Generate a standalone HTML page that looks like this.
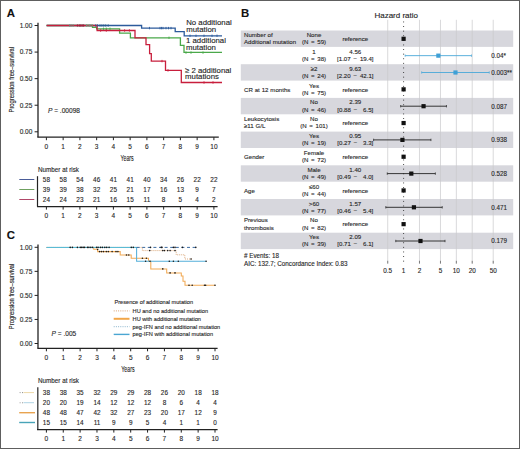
<!DOCTYPE html>
<html><head><meta charset="utf-8"><style>
html,body{margin:0;padding:0;background:#fff;}
body{width:520px;height:449px;overflow:hidden;}
svg{display:block;font-family:"Liberation Sans", sans-serif;}
text{stroke:#2e2e2e;stroke-width:0.12px;paint-order:stroke;}
text.ns{stroke:none;}
</style></head><body>
<svg width="520" height="449" viewBox="0 0 520 449">
<rect x="0" y="0" width="520" height="449" fill="#fff"/>
<text x="6.80" y="16.60" font-size="11.4" text-anchor="start" fill="#111" font-weight="bold" >A</text>
<text x="6.80" y="238.80" font-size="11.4" text-anchor="start" fill="#111" font-weight="bold" >C</text>
<text x="241.00" y="17.10" font-size="11.4" text-anchor="start" fill="#111" font-weight="bold" >B</text>
<line x1="38.00" y1="22.70" x2="38.00" y2="137.20" stroke="#222" stroke-width="1.3" />
<line x1="37.35" y1="137.20" x2="218.80" y2="137.20" stroke="#222" stroke-width="1.3" />
<line x1="34.60" y1="25.50" x2="38.00" y2="25.50" stroke="#222" stroke-width="1" />
<text x="32.30" y="27.90" font-size="6.5" text-anchor="end" fill="#262626" font-weight="normal" >1.00</text>
<line x1="34.60" y1="52.08" x2="38.00" y2="52.08" stroke="#222" stroke-width="1" />
<text x="32.30" y="54.48" font-size="6.5" text-anchor="end" fill="#262626" font-weight="normal" >0.75</text>
<line x1="34.60" y1="78.65" x2="38.00" y2="78.65" stroke="#222" stroke-width="1" />
<text x="32.30" y="81.05" font-size="6.5" text-anchor="end" fill="#262626" font-weight="normal" >0.50</text>
<line x1="34.60" y1="105.23" x2="38.00" y2="105.23" stroke="#222" stroke-width="1" />
<text x="32.30" y="107.63" font-size="6.5" text-anchor="end" fill="#262626" font-weight="normal" >0.25</text>
<line x1="34.60" y1="131.80" x2="38.00" y2="131.80" stroke="#222" stroke-width="1" />
<text x="32.30" y="134.20" font-size="6.5" text-anchor="end" fill="#262626" font-weight="normal" >0.00</text>
<line x1="46.40" y1="137.20" x2="46.40" y2="140.20" stroke="#222" stroke-width="1" />
<text x="46.40" y="148.60" font-size="6.5" text-anchor="middle" fill="#262626" font-weight="normal" >0</text>
<line x1="63.15" y1="137.20" x2="63.15" y2="140.20" stroke="#222" stroke-width="1" />
<text x="63.15" y="148.60" font-size="6.5" text-anchor="middle" fill="#262626" font-weight="normal" >1</text>
<line x1="79.90" y1="137.20" x2="79.90" y2="140.20" stroke="#222" stroke-width="1" />
<text x="79.90" y="148.60" font-size="6.5" text-anchor="middle" fill="#262626" font-weight="normal" >2</text>
<line x1="96.65" y1="137.20" x2="96.65" y2="140.20" stroke="#222" stroke-width="1" />
<text x="96.65" y="148.60" font-size="6.5" text-anchor="middle" fill="#262626" font-weight="normal" >3</text>
<line x1="113.40" y1="137.20" x2="113.40" y2="140.20" stroke="#222" stroke-width="1" />
<text x="113.40" y="148.60" font-size="6.5" text-anchor="middle" fill="#262626" font-weight="normal" >4</text>
<line x1="130.15" y1="137.20" x2="130.15" y2="140.20" stroke="#222" stroke-width="1" />
<text x="130.15" y="148.60" font-size="6.5" text-anchor="middle" fill="#262626" font-weight="normal" >5</text>
<line x1="146.90" y1="137.20" x2="146.90" y2="140.20" stroke="#222" stroke-width="1" />
<text x="146.90" y="148.60" font-size="6.5" text-anchor="middle" fill="#262626" font-weight="normal" >6</text>
<line x1="163.65" y1="137.20" x2="163.65" y2="140.20" stroke="#222" stroke-width="1" />
<text x="163.65" y="148.60" font-size="6.5" text-anchor="middle" fill="#262626" font-weight="normal" >7</text>
<line x1="180.40" y1="137.20" x2="180.40" y2="140.20" stroke="#222" stroke-width="1" />
<text x="180.40" y="148.60" font-size="6.5" text-anchor="middle" fill="#262626" font-weight="normal" >8</text>
<line x1="197.15" y1="137.20" x2="197.15" y2="140.20" stroke="#222" stroke-width="1" />
<text x="197.15" y="148.60" font-size="6.5" text-anchor="middle" fill="#262626" font-weight="normal" >9</text>
<line x1="213.90" y1="137.20" x2="213.90" y2="140.20" stroke="#222" stroke-width="1" />
<text x="213.90" y="148.60" font-size="6.5" text-anchor="middle" fill="#262626" font-weight="normal" >10</text>
<text transform="translate(127.1,160.6) scale(0.6,1)" font-size="8.8" text-anchor="middle" fill="#222">Years</text>
<text transform="translate(14.0,79.7) rotate(-90) scale(0.755,1)" font-size="7.7" text-anchor="middle" fill="#222">Progression free–survival</text>
<polyline points="46.60,25.50 141.60,25.50 141.60,28.10 175.20,28.10 175.20,31.70 184.20,31.70 184.20,35.80 222.00,35.80" fill="none" stroke="#2c5b9c" stroke-width="1.3" />
<polyline points="46.60,25.50 92.50,25.50 92.50,27.30 96.60,27.30 96.60,28.80 119.60,28.80 119.60,33.10 130.40,33.10 130.40,37.80 180.40,37.80 180.40,45.40 184.00,45.40 184.00,52.40 222.00,52.40" fill="none" stroke="#4aa84a" stroke-width="1.3" />
<polyline points="46.60,25.50 97.10,25.50 97.10,30.50 135.00,30.50 135.00,37.80 146.00,37.80 146.00,44.60 149.60,44.60 149.60,53.70 151.30,53.70 151.30,61.10 165.50,61.10 165.50,70.40 181.30,70.40 181.30,82.50 222.00,82.50" fill="none" stroke="#c81e3c" stroke-width="1.3" />
<line x1="69.70" y1="24.30" x2="69.70" y2="26.70" stroke="#6a8a7a" stroke-width="0.9" />
<line x1="71.10" y1="24.30" x2="71.10" y2="26.70" stroke="#6a8a7a" stroke-width="0.9" />
<line x1="73.10" y1="24.30" x2="73.10" y2="26.70" stroke="#6a8a7a" stroke-width="0.9" />
<line x1="77.40" y1="24.30" x2="77.40" y2="26.70" stroke="#9a2040" stroke-width="0.9" />
<line x1="79.30" y1="24.30" x2="79.30" y2="26.70" stroke="#9a2040" stroke-width="0.9" />
<line x1="80.75" y1="24.30" x2="80.75" y2="26.70" stroke="#9a2040" stroke-width="0.9" />
<line x1="82.20" y1="24.30" x2="82.20" y2="26.70" stroke="#9a2040" stroke-width="0.9" />
<line x1="83.60" y1="24.30" x2="83.60" y2="26.70" stroke="#9a2040" stroke-width="0.9" />
<line x1="86.50" y1="24.30" x2="86.50" y2="26.70" stroke="#6a9a7a" stroke-width="0.9" />
<line x1="88.00" y1="24.30" x2="88.00" y2="26.70" stroke="#6a9a7a" stroke-width="0.9" />
<line x1="89.40" y1="24.30" x2="89.40" y2="26.70" stroke="#6a9a7a" stroke-width="0.9" />
<line x1="90.80" y1="24.30" x2="90.80" y2="26.70" stroke="#6a9a7a" stroke-width="0.9" />
<line x1="92.30" y1="24.30" x2="92.30" y2="26.70" stroke="#6a9a7a" stroke-width="0.9" />
<line x1="95.70" y1="24.30" x2="95.70" y2="26.70" stroke="#2a5a8a" stroke-width="0.9" />
<line x1="97.60" y1="24.30" x2="97.60" y2="26.70" stroke="#2a5a8a" stroke-width="0.9" />
<line x1="100.00" y1="24.30" x2="100.00" y2="26.70" stroke="#2a5a8a" stroke-width="0.9" />
<line x1="101.90" y1="24.30" x2="101.90" y2="26.70" stroke="#2a5a8a" stroke-width="0.9" />
<line x1="103.80" y1="24.30" x2="103.80" y2="26.70" stroke="#2a5a8a" stroke-width="0.9" />
<line x1="105.75" y1="24.30" x2="105.75" y2="26.70" stroke="#2a5a8a" stroke-width="0.9" />
<line x1="108.20" y1="24.30" x2="108.20" y2="26.70" stroke="#2a5a8a" stroke-width="0.9" />
<line x1="103.50" y1="27.60" x2="103.50" y2="30.00" stroke="#4aa84a" stroke-width="0.9" />
<line x1="106.30" y1="27.60" x2="106.30" y2="30.00" stroke="#4aa84a" stroke-width="0.9" />
<line x1="110.00" y1="27.60" x2="110.00" y2="30.00" stroke="#4aa84a" stroke-width="0.9" />
<line x1="100.60" y1="29.30" x2="100.60" y2="31.70" stroke="#c81e3c" stroke-width="0.9" />
<line x1="106.30" y1="29.30" x2="106.30" y2="31.70" stroke="#c81e3c" stroke-width="0.9" />
<line x1="124.60" y1="29.30" x2="124.60" y2="31.70" stroke="#c81e3c" stroke-width="0.9" />
<line x1="129.40" y1="29.30" x2="129.40" y2="31.70" stroke="#c81e3c" stroke-width="0.9" />
<line x1="149.50" y1="26.90" x2="149.50" y2="29.30" stroke="#2c5b9c" stroke-width="0.9" />
<line x1="160.00" y1="26.90" x2="160.00" y2="29.30" stroke="#2c5b9c" stroke-width="0.9" />
<line x1="161.50" y1="26.90" x2="161.50" y2="29.30" stroke="#2c5b9c" stroke-width="0.9" />
<line x1="163.00" y1="26.90" x2="163.00" y2="29.30" stroke="#2c5b9c" stroke-width="0.9" />
<line x1="166.00" y1="26.90" x2="166.00" y2="29.30" stroke="#2c5b9c" stroke-width="0.9" />
<line x1="168.50" y1="26.90" x2="168.50" y2="29.30" stroke="#2c5b9c" stroke-width="0.9" />
<line x1="171.00" y1="26.90" x2="171.00" y2="29.30" stroke="#2c5b9c" stroke-width="0.9" />
<line x1="190.00" y1="34.60" x2="190.00" y2="37.00" stroke="#2c5b9c" stroke-width="0.9" />
<line x1="196.00" y1="34.60" x2="196.00" y2="37.00" stroke="#2c5b9c" stroke-width="0.9" />
<line x1="204.00" y1="34.60" x2="204.00" y2="37.00" stroke="#2c5b9c" stroke-width="0.9" />
<line x1="212.00" y1="34.60" x2="212.00" y2="37.00" stroke="#2c5b9c" stroke-width="0.9" />
<line x1="217.00" y1="34.60" x2="217.00" y2="37.00" stroke="#2c5b9c" stroke-width="0.9" />
<line x1="169.00" y1="36.60" x2="169.00" y2="39.00" stroke="#4aa84a" stroke-width="0.9" />
<line x1="186.00" y1="51.40" x2="186.00" y2="53.80" stroke="#4aa84a" stroke-width="0.9" />
<line x1="191.00" y1="51.40" x2="191.00" y2="53.80" stroke="#4aa84a" stroke-width="0.9" />
<line x1="203.00" y1="51.40" x2="203.00" y2="53.80" stroke="#4aa84a" stroke-width="0.9" />
<line x1="162.00" y1="59.90" x2="162.00" y2="62.30" stroke="#c81e3c" stroke-width="0.9" />
<line x1="168.00" y1="69.20" x2="168.00" y2="71.60" stroke="#c81e3c" stroke-width="0.9" />
<line x1="204.00" y1="81.30" x2="204.00" y2="83.70" stroke="#c81e3c" stroke-width="0.9" />
<line x1="213.00" y1="81.30" x2="213.00" y2="83.70" stroke="#c81e3c" stroke-width="0.9" />
<text x="186.20" y="25.20" font-size="7.8" text-anchor="start" fill="#222" font-weight="normal" >No additional</text>
<text x="186.20" y="32.40" font-size="7.8" text-anchor="start" fill="#222" font-weight="normal" >mutation</text>
<text x="186.00" y="42.60" font-size="7.8" text-anchor="start" fill="#222" font-weight="normal" >1 additional</text>
<text x="186.00" y="49.80" font-size="7.8" text-anchor="start" fill="#222" font-weight="normal" >mutation</text>
<text x="185.00" y="72.70" font-size="7.8" text-anchor="start" fill="#222" font-weight="normal" >≥ 2 additional</text>
<text x="185.10" y="79.40" font-size="7.8" text-anchor="start" fill="#222" font-weight="normal" >mutations</text>
<text x="47.90" y="113.00" font-size="6.6" text-anchor="start" fill="#262626" font-weight="normal" ><tspan font-style="italic">P</tspan> = .00098</text>
<text x="38.00" y="171.70" font-size="6.3" text-anchor="start" fill="#262626" font-weight="normal" >Number at risk</text>
<line x1="37.50" y1="176.20" x2="37.50" y2="206.60" stroke="#222" stroke-width="1.2" />
<line x1="37.00" y1="206.60" x2="217.60" y2="206.60" stroke="#222" stroke-width="1.3" />
<line x1="46.40" y1="206.60" x2="46.40" y2="209.60" stroke="#222" stroke-width="1" />
<text x="46.40" y="218.00" font-size="6.5" text-anchor="middle" fill="#262626" font-weight="normal" >0</text>
<line x1="63.15" y1="206.60" x2="63.15" y2="209.60" stroke="#222" stroke-width="1" />
<text x="63.15" y="218.00" font-size="6.5" text-anchor="middle" fill="#262626" font-weight="normal" >1</text>
<line x1="79.90" y1="206.60" x2="79.90" y2="209.60" stroke="#222" stroke-width="1" />
<text x="79.90" y="218.00" font-size="6.5" text-anchor="middle" fill="#262626" font-weight="normal" >2</text>
<line x1="96.65" y1="206.60" x2="96.65" y2="209.60" stroke="#222" stroke-width="1" />
<text x="96.65" y="218.00" font-size="6.5" text-anchor="middle" fill="#262626" font-weight="normal" >3</text>
<line x1="113.40" y1="206.60" x2="113.40" y2="209.60" stroke="#222" stroke-width="1" />
<text x="113.40" y="218.00" font-size="6.5" text-anchor="middle" fill="#262626" font-weight="normal" >4</text>
<line x1="130.15" y1="206.60" x2="130.15" y2="209.60" stroke="#222" stroke-width="1" />
<text x="130.15" y="218.00" font-size="6.5" text-anchor="middle" fill="#262626" font-weight="normal" >5</text>
<line x1="146.90" y1="206.60" x2="146.90" y2="209.60" stroke="#222" stroke-width="1" />
<text x="146.90" y="218.00" font-size="6.5" text-anchor="middle" fill="#262626" font-weight="normal" >6</text>
<line x1="163.65" y1="206.60" x2="163.65" y2="209.60" stroke="#222" stroke-width="1" />
<text x="163.65" y="218.00" font-size="6.5" text-anchor="middle" fill="#262626" font-weight="normal" >7</text>
<line x1="180.40" y1="206.60" x2="180.40" y2="209.60" stroke="#222" stroke-width="1" />
<text x="180.40" y="218.00" font-size="6.5" text-anchor="middle" fill="#262626" font-weight="normal" >8</text>
<line x1="197.15" y1="206.60" x2="197.15" y2="209.60" stroke="#222" stroke-width="1" />
<text x="197.15" y="218.00" font-size="6.5" text-anchor="middle" fill="#262626" font-weight="normal" >9</text>
<line x1="213.90" y1="206.60" x2="213.90" y2="209.60" stroke="#222" stroke-width="1" />
<text x="213.90" y="218.00" font-size="6.5" text-anchor="middle" fill="#262626" font-weight="normal" >10</text>
<line x1="19.30" y1="179.50" x2="34.30" y2="179.50" stroke="#4a5c98" stroke-width="1.0" />
<text x="46.40" y="181.90" font-size="6.4" text-anchor="middle" fill="#262626" font-weight="normal" >58</text>
<text x="63.15" y="181.90" font-size="6.4" text-anchor="middle" fill="#262626" font-weight="normal" >58</text>
<text x="79.90" y="181.90" font-size="6.4" text-anchor="middle" fill="#262626" font-weight="normal" >54</text>
<text x="96.65" y="181.90" font-size="6.4" text-anchor="middle" fill="#262626" font-weight="normal" >46</text>
<text x="113.40" y="181.90" font-size="6.4" text-anchor="middle" fill="#262626" font-weight="normal" >41</text>
<text x="130.15" y="181.90" font-size="6.4" text-anchor="middle" fill="#262626" font-weight="normal" >41</text>
<text x="146.90" y="181.90" font-size="6.4" text-anchor="middle" fill="#262626" font-weight="normal" >40</text>
<text x="163.65" y="181.90" font-size="6.4" text-anchor="middle" fill="#262626" font-weight="normal" >34</text>
<text x="180.40" y="181.90" font-size="6.4" text-anchor="middle" fill="#262626" font-weight="normal" >26</text>
<text x="197.15" y="181.90" font-size="6.4" text-anchor="middle" fill="#262626" font-weight="normal" >22</text>
<text x="213.90" y="181.90" font-size="6.4" text-anchor="middle" fill="#262626" font-weight="normal" >22</text>
<line x1="19.30" y1="189.50" x2="34.30" y2="189.50" stroke="#6fa060" stroke-width="1.0" />
<text x="46.40" y="191.60" font-size="6.4" text-anchor="middle" fill="#262626" font-weight="normal" >39</text>
<text x="63.15" y="191.60" font-size="6.4" text-anchor="middle" fill="#262626" font-weight="normal" >39</text>
<text x="79.90" y="191.60" font-size="6.4" text-anchor="middle" fill="#262626" font-weight="normal" >38</text>
<text x="96.65" y="191.60" font-size="6.4" text-anchor="middle" fill="#262626" font-weight="normal" >32</text>
<text x="113.40" y="191.60" font-size="6.4" text-anchor="middle" fill="#262626" font-weight="normal" >25</text>
<text x="130.15" y="191.60" font-size="6.4" text-anchor="middle" fill="#262626" font-weight="normal" >21</text>
<text x="146.90" y="191.60" font-size="6.4" text-anchor="middle" fill="#262626" font-weight="normal" >17</text>
<text x="163.65" y="191.60" font-size="6.4" text-anchor="middle" fill="#262626" font-weight="normal" >16</text>
<text x="180.40" y="191.60" font-size="6.4" text-anchor="middle" fill="#262626" font-weight="normal" >13</text>
<text x="197.15" y="191.60" font-size="6.4" text-anchor="middle" fill="#262626" font-weight="normal" >9</text>
<text x="213.90" y="191.60" font-size="6.4" text-anchor="middle" fill="#262626" font-weight="normal" >7</text>
<line x1="19.30" y1="199.50" x2="34.30" y2="199.50" stroke="#b04868" stroke-width="1.0" />
<text x="46.40" y="201.60" font-size="6.4" text-anchor="middle" fill="#262626" font-weight="normal" >24</text>
<text x="63.15" y="201.60" font-size="6.4" text-anchor="middle" fill="#262626" font-weight="normal" >24</text>
<text x="79.90" y="201.60" font-size="6.4" text-anchor="middle" fill="#262626" font-weight="normal" >23</text>
<text x="96.65" y="201.60" font-size="6.4" text-anchor="middle" fill="#262626" font-weight="normal" >21</text>
<text x="113.40" y="201.60" font-size="6.4" text-anchor="middle" fill="#262626" font-weight="normal" >16</text>
<text x="130.15" y="201.60" font-size="6.4" text-anchor="middle" fill="#262626" font-weight="normal" >15</text>
<text x="146.90" y="201.60" font-size="6.4" text-anchor="middle" fill="#262626" font-weight="normal" >11</text>
<text x="163.65" y="201.60" font-size="6.4" text-anchor="middle" fill="#262626" font-weight="normal" >8</text>
<text x="180.40" y="201.60" font-size="6.4" text-anchor="middle" fill="#262626" font-weight="normal" >5</text>
<text x="197.15" y="201.60" font-size="6.4" text-anchor="middle" fill="#262626" font-weight="normal" >4</text>
<text x="213.90" y="201.60" font-size="6.4" text-anchor="middle" fill="#262626" font-weight="normal" >2</text>
<line x1="38.00" y1="244.50" x2="38.00" y2="348.30" stroke="#222" stroke-width="1.3" />
<line x1="37.35" y1="348.30" x2="217.60" y2="348.30" stroke="#222" stroke-width="1.3" />
<line x1="34.60" y1="247.30" x2="38.00" y2="247.30" stroke="#222" stroke-width="1" />
<text x="32.30" y="249.70" font-size="6.5" text-anchor="end" fill="#262626" font-weight="normal" >1.00</text>
<line x1="34.60" y1="271.35" x2="38.00" y2="271.35" stroke="#222" stroke-width="1" />
<text x="32.30" y="273.75" font-size="6.5" text-anchor="end" fill="#262626" font-weight="normal" >0.75</text>
<line x1="34.60" y1="295.40" x2="38.00" y2="295.40" stroke="#222" stroke-width="1" />
<text x="32.30" y="297.80" font-size="6.5" text-anchor="end" fill="#262626" font-weight="normal" >0.50</text>
<line x1="34.60" y1="319.45" x2="38.00" y2="319.45" stroke="#222" stroke-width="1" />
<text x="32.30" y="321.85" font-size="6.5" text-anchor="end" fill="#262626" font-weight="normal" >0.25</text>
<line x1="34.60" y1="343.50" x2="38.00" y2="343.50" stroke="#222" stroke-width="1" />
<text x="32.30" y="345.90" font-size="6.5" text-anchor="end" fill="#262626" font-weight="normal" >0.00</text>
<line x1="46.40" y1="348.30" x2="46.40" y2="351.30" stroke="#222" stroke-width="1" />
<text x="46.40" y="359.80" font-size="6.5" text-anchor="middle" fill="#262626" font-weight="normal" >0</text>
<line x1="63.26" y1="348.30" x2="63.26" y2="351.30" stroke="#222" stroke-width="1" />
<text x="63.26" y="359.80" font-size="6.5" text-anchor="middle" fill="#262626" font-weight="normal" >1</text>
<line x1="80.12" y1="348.30" x2="80.12" y2="351.30" stroke="#222" stroke-width="1" />
<text x="80.12" y="359.80" font-size="6.5" text-anchor="middle" fill="#262626" font-weight="normal" >2</text>
<line x1="96.98" y1="348.30" x2="96.98" y2="351.30" stroke="#222" stroke-width="1" />
<text x="96.98" y="359.80" font-size="6.5" text-anchor="middle" fill="#262626" font-weight="normal" >3</text>
<line x1="113.84" y1="348.30" x2="113.84" y2="351.30" stroke="#222" stroke-width="1" />
<text x="113.84" y="359.80" font-size="6.5" text-anchor="middle" fill="#262626" font-weight="normal" >4</text>
<line x1="130.70" y1="348.30" x2="130.70" y2="351.30" stroke="#222" stroke-width="1" />
<text x="130.70" y="359.80" font-size="6.5" text-anchor="middle" fill="#262626" font-weight="normal" >5</text>
<line x1="147.56" y1="348.30" x2="147.56" y2="351.30" stroke="#222" stroke-width="1" />
<text x="147.56" y="359.80" font-size="6.5" text-anchor="middle" fill="#262626" font-weight="normal" >6</text>
<line x1="164.42" y1="348.30" x2="164.42" y2="351.30" stroke="#222" stroke-width="1" />
<text x="164.42" y="359.80" font-size="6.5" text-anchor="middle" fill="#262626" font-weight="normal" >7</text>
<line x1="181.28" y1="348.30" x2="181.28" y2="351.30" stroke="#222" stroke-width="1" />
<text x="181.28" y="359.80" font-size="6.5" text-anchor="middle" fill="#262626" font-weight="normal" >8</text>
<line x1="198.14" y1="348.30" x2="198.14" y2="351.30" stroke="#222" stroke-width="1" />
<text x="198.14" y="359.80" font-size="6.5" text-anchor="middle" fill="#262626" font-weight="normal" >9</text>
<line x1="215.00" y1="348.30" x2="215.00" y2="351.30" stroke="#222" stroke-width="1" />
<text x="215.00" y="359.80" font-size="6.5" text-anchor="middle" fill="#262626" font-weight="normal" >10</text>
<text transform="translate(127.9,371.8) scale(0.6,1)" font-size="8.8" text-anchor="middle" fill="#222">Years</text>
<text transform="translate(14.0,296.4) rotate(-90) scale(0.755,1)" font-size="7.7" text-anchor="middle" fill="#222">Progression free–survival</text>
<polyline points="46.60,247.40 142.40,247.40 142.40,250.60 176.20,250.60 176.20,254.80 184.80,254.80 184.80,259.00 192.00,259.00" fill="none" stroke="#d8a070" stroke-width="0.9" stroke-dasharray="1,1.0"/>
<polyline points="46.60,247.40 93.70,247.40 93.70,249.30 97.70,249.30 97.70,251.60 120.20,251.60 120.20,255.00 131.20,255.00 131.20,258.30 148.50,258.30 148.50,261.20 150.80,261.20 150.80,268.90 166.70,268.90 166.70,272.90 181.30,272.90 181.30,276.00 183.00,276.00 183.00,281.20 185.00,281.20 185.00,285.30 215.20,285.30" fill="none" stroke="#f2aa55" stroke-width="1.05" />
<polyline points="46.60,247.40 136.60,247.40 136.60,261.20 206.20,261.20" fill="none" stroke="#55b0da" stroke-width="1.05" />
<line x1="46.60" y1="247.40" x2="136.60" y2="247.40" stroke="#5cbcd4" stroke-width="1.0" />
<polyline points="136.60,247.40 196.60,247.40" fill="none" stroke="#3a6aa0" stroke-width="1.0" stroke-dasharray="3,2.6"/>
<circle cx="70.2" cy="247.4" r="0.8" fill="#1a1a1a"/>
<circle cx="72.4" cy="247.4" r="0.8" fill="#1a1a1a"/>
<circle cx="77.4" cy="247.4" r="0.8" fill="#1a1a1a"/>
<circle cx="80.3" cy="247.4" r="0.8" fill="#1a1a1a"/>
<circle cx="81.7" cy="247.4" r="0.8" fill="#1a1a1a"/>
<circle cx="83.2" cy="247.4" r="0.8" fill="#1a1a1a"/>
<circle cx="84.6" cy="247.4" r="0.8" fill="#1a1a1a"/>
<circle cx="87.5" cy="247.4" r="0.8" fill="#1a1a1a"/>
<circle cx="88.9" cy="247.4" r="0.8" fill="#1a1a1a"/>
<circle cx="90.8" cy="247.4" r="0.8" fill="#1a1a1a"/>
<circle cx="92.6" cy="247.4" r="0.8" fill="#1a1a1a"/>
<circle cx="96.6" cy="247.4" r="0.8" fill="#1a1a1a"/>
<circle cx="98.1" cy="247.4" r="0.8" fill="#1a1a1a"/>
<circle cx="100.5" cy="247.4" r="0.8" fill="#1a1a1a"/>
<circle cx="102.4" cy="247.4" r="0.8" fill="#1a1a1a"/>
<circle cx="104.8" cy="247.4" r="0.8" fill="#1a1a1a"/>
<circle cx="106.7" cy="247.4" r="0.8" fill="#1a1a1a"/>
<circle cx="109.1" cy="247.4" r="0.8" fill="#1a1a1a"/>
<circle cx="131.3" cy="247.4" r="0.8" fill="#1a1a1a"/>
<circle cx="133.3" cy="247.4" r="0.8" fill="#1a1a1a"/>
<circle cx="97.6" cy="249.5" r="0.8" fill="#1a1a1a"/>
<circle cx="99.6" cy="251.6" r="0.8" fill="#1a1a1a"/>
<circle cx="101.5" cy="251.6" r="0.8" fill="#1a1a1a"/>
<circle cx="103.5" cy="251.6" r="0.8" fill="#1a1a1a"/>
<circle cx="106.3" cy="251.6" r="0.8" fill="#1a1a1a"/>
<circle cx="108.3" cy="251.6" r="0.8" fill="#1a1a1a"/>
<circle cx="112.1" cy="251.6" r="0.8" fill="#1a1a1a"/>
<circle cx="116.0" cy="251.6" r="0.8" fill="#1a1a1a"/>
<circle cx="117.9" cy="251.6" r="0.8" fill="#1a1a1a"/>
<circle cx="126.5" cy="255.0" r="0.8" fill="#1a1a1a"/>
<circle cx="128.8" cy="255.0" r="0.8" fill="#1a1a1a"/>
<circle cx="142.4" cy="258.3" r="0.8" fill="#1a1a1a"/>
<circle cx="146.4" cy="258.3" r="0.8" fill="#1a1a1a"/>
<circle cx="150.5" cy="247.4" r="0.8" fill="#1a1a1a"/>
<circle cx="161.2" cy="247.4" r="0.8" fill="#1a1a1a"/>
<circle cx="162.0" cy="247.4" r="0.8" fill="#1a1a1a"/>
<circle cx="173.4" cy="247.4" r="0.8" fill="#1a1a1a"/>
<circle cx="175.0" cy="247.4" r="0.8" fill="#1a1a1a"/>
<circle cx="182.4" cy="247.4" r="0.8" fill="#1a1a1a"/>
<circle cx="195.8" cy="247.4" r="0.8" fill="#1a1a1a"/>
<circle cx="149.7" cy="250.6" r="0.8" fill="#1a1a1a"/>
<circle cx="162.8" cy="250.6" r="0.8" fill="#1a1a1a"/>
<circle cx="164.4" cy="250.6" r="0.8" fill="#1a1a1a"/>
<circle cx="167.7" cy="250.6" r="0.8" fill="#1a1a1a"/>
<circle cx="170.1" cy="250.6" r="0.8" fill="#1a1a1a"/>
<circle cx="175.0" cy="250.6" r="0.8" fill="#1a1a1a"/>
<circle cx="191.0" cy="259.0" r="0.8" fill="#1a1a1a"/>
<circle cx="145.6" cy="261.2" r="0.8" fill="#1a1a1a"/>
<circle cx="150.0" cy="261.2" r="0.8" fill="#1a1a1a"/>
<circle cx="169.3" cy="261.2" r="0.8" fill="#1a1a1a"/>
<circle cx="173.4" cy="261.2" r="0.8" fill="#1a1a1a"/>
<circle cx="178.3" cy="261.2" r="0.8" fill="#1a1a1a"/>
<circle cx="206.1" cy="261.2" r="0.8" fill="#1a1a1a"/>
<circle cx="162.8" cy="268.9" r="0.8" fill="#1a1a1a"/>
<circle cx="170.1" cy="272.9" r="0.8" fill="#1a1a1a"/>
<circle cx="175.0" cy="272.9" r="0.8" fill="#1a1a1a"/>
<circle cx="189.0" cy="285.3" r="0.8" fill="#1a1a1a"/>
<circle cx="192.2" cy="285.3" r="0.8" fill="#1a1a1a"/>
<circle cx="204.5" cy="285.3" r="0.8" fill="#1a1a1a"/>
<circle cx="205.6" cy="285.3" r="0.8" fill="#1a1a1a"/>
<circle cx="215.0" cy="285.3" r="0.8" fill="#1a1a1a"/>
<text x="114.50" y="303.60" font-size="5.62" text-anchor="start" fill="#262626" font-weight="normal" >Presence of additional mutation</text>
<line x1="113.70" y1="310.90" x2="129.50" y2="310.90" stroke="#d8a070" stroke-width="1.0" stroke-dasharray="1,1.2"/>
<text x="132.60" y="312.80" font-size="5.62" text-anchor="start" fill="#262626" font-weight="normal" >HU and no additional mutation</text>
<line x1="113.70" y1="318.80" x2="129.50" y2="318.80" stroke="#f2a648" stroke-width="2.0" />
<text x="132.60" y="320.70" font-size="5.62" text-anchor="start" fill="#262626" font-weight="normal" >HU with additional mutation</text>
<line x1="113.70" y1="326.70" x2="129.50" y2="326.70" stroke="#8ab4cc" stroke-width="1.0" stroke-dasharray="1,1.2"/>
<text x="132.60" y="328.60" font-size="5.62" text-anchor="start" fill="#262626" font-weight="normal" >peg-IFN and no additional mutation</text>
<line x1="113.70" y1="334.40" x2="129.50" y2="334.40" stroke="#4aa6d2" stroke-width="1.4" />
<text x="132.60" y="336.30" font-size="5.62" text-anchor="start" fill="#262626" font-weight="normal" >peg-IFN with additional mutation</text>
<text x="51.50" y="335.80" font-size="6.6" text-anchor="start" fill="#262626" font-weight="normal" ><tspan font-style="italic">P</tspan> = .005</text>
<text x="38.00" y="382.90" font-size="6.3" text-anchor="start" fill="#262626" font-weight="normal" >Number at risk</text>
<line x1="37.80" y1="387.30" x2="37.80" y2="429.60" stroke="#333" stroke-width="1.3" />
<line x1="37.00" y1="429.60" x2="217.60" y2="429.60" stroke="#222" stroke-width="1.3" />
<line x1="46.40" y1="429.60" x2="46.40" y2="432.60" stroke="#222" stroke-width="1" />
<text x="46.40" y="441.00" font-size="6.5" text-anchor="middle" fill="#262626" font-weight="normal" >0</text>
<line x1="63.26" y1="429.60" x2="63.26" y2="432.60" stroke="#222" stroke-width="1" />
<text x="63.26" y="441.00" font-size="6.5" text-anchor="middle" fill="#262626" font-weight="normal" >1</text>
<line x1="80.12" y1="429.60" x2="80.12" y2="432.60" stroke="#222" stroke-width="1" />
<text x="80.12" y="441.00" font-size="6.5" text-anchor="middle" fill="#262626" font-weight="normal" >2</text>
<line x1="96.98" y1="429.60" x2="96.98" y2="432.60" stroke="#222" stroke-width="1" />
<text x="96.98" y="441.00" font-size="6.5" text-anchor="middle" fill="#262626" font-weight="normal" >3</text>
<line x1="113.84" y1="429.60" x2="113.84" y2="432.60" stroke="#222" stroke-width="1" />
<text x="113.84" y="441.00" font-size="6.5" text-anchor="middle" fill="#262626" font-weight="normal" >4</text>
<line x1="130.70" y1="429.60" x2="130.70" y2="432.60" stroke="#222" stroke-width="1" />
<text x="130.70" y="441.00" font-size="6.5" text-anchor="middle" fill="#262626" font-weight="normal" >5</text>
<line x1="147.56" y1="429.60" x2="147.56" y2="432.60" stroke="#222" stroke-width="1" />
<text x="147.56" y="441.00" font-size="6.5" text-anchor="middle" fill="#262626" font-weight="normal" >6</text>
<line x1="164.42" y1="429.60" x2="164.42" y2="432.60" stroke="#222" stroke-width="1" />
<text x="164.42" y="441.00" font-size="6.5" text-anchor="middle" fill="#262626" font-weight="normal" >7</text>
<line x1="181.28" y1="429.60" x2="181.28" y2="432.60" stroke="#222" stroke-width="1" />
<text x="181.28" y="441.00" font-size="6.5" text-anchor="middle" fill="#262626" font-weight="normal" >8</text>
<line x1="198.14" y1="429.60" x2="198.14" y2="432.60" stroke="#222" stroke-width="1" />
<text x="198.14" y="441.00" font-size="6.5" text-anchor="middle" fill="#262626" font-weight="normal" >9</text>
<line x1="215.00" y1="429.60" x2="215.00" y2="432.60" stroke="#222" stroke-width="1" />
<text x="215.00" y="441.00" font-size="6.5" text-anchor="middle" fill="#262626" font-weight="normal" >10</text>
<line x1="23.50" y1="392.60" x2="34.00" y2="392.60" stroke="#ecd8a8" stroke-width="1.0" />
<circle cx="20.1" cy="392.6" r="0.55" fill="#888"/>
<circle cx="22.5" cy="392.6" r="0.55" fill="#888"/>
<text x="46.40" y="394.60" font-size="6.4" text-anchor="middle" fill="#262626" font-weight="normal" >38</text>
<text x="63.26" y="394.60" font-size="6.4" text-anchor="middle" fill="#262626" font-weight="normal" >38</text>
<text x="80.12" y="394.60" font-size="6.4" text-anchor="middle" fill="#262626" font-weight="normal" >35</text>
<text x="96.98" y="394.60" font-size="6.4" text-anchor="middle" fill="#262626" font-weight="normal" >32</text>
<text x="113.84" y="394.60" font-size="6.4" text-anchor="middle" fill="#262626" font-weight="normal" >29</text>
<text x="130.70" y="394.60" font-size="6.4" text-anchor="middle" fill="#262626" font-weight="normal" >29</text>
<text x="147.56" y="394.60" font-size="6.4" text-anchor="middle" fill="#262626" font-weight="normal" >28</text>
<text x="164.42" y="394.60" font-size="6.4" text-anchor="middle" fill="#262626" font-weight="normal" >26</text>
<text x="181.28" y="394.60" font-size="6.4" text-anchor="middle" fill="#262626" font-weight="normal" >20</text>
<text x="198.14" y="394.60" font-size="6.4" text-anchor="middle" fill="#262626" font-weight="normal" >18</text>
<text x="215.00" y="394.60" font-size="6.4" text-anchor="middle" fill="#262626" font-weight="normal" >18</text>
<line x1="23.50" y1="402.70" x2="34.00" y2="402.70" stroke="#b0d4e4" stroke-width="1.0" />
<circle cx="20.1" cy="402.7" r="0.55" fill="#888"/>
<circle cx="22.5" cy="402.7" r="0.55" fill="#888"/>
<text x="46.40" y="404.60" font-size="6.4" text-anchor="middle" fill="#262626" font-weight="normal" >20</text>
<text x="63.26" y="404.60" font-size="6.4" text-anchor="middle" fill="#262626" font-weight="normal" >20</text>
<text x="80.12" y="404.60" font-size="6.4" text-anchor="middle" fill="#262626" font-weight="normal" >19</text>
<text x="96.98" y="404.60" font-size="6.4" text-anchor="middle" fill="#262626" font-weight="normal" >14</text>
<text x="113.84" y="404.60" font-size="6.4" text-anchor="middle" fill="#262626" font-weight="normal" >12</text>
<text x="130.70" y="404.60" font-size="6.4" text-anchor="middle" fill="#262626" font-weight="normal" >12</text>
<text x="147.56" y="404.60" font-size="6.4" text-anchor="middle" fill="#262626" font-weight="normal" >12</text>
<text x="164.42" y="404.60" font-size="6.4" text-anchor="middle" fill="#262626" font-weight="normal" >8</text>
<text x="181.28" y="404.60" font-size="6.4" text-anchor="middle" fill="#262626" font-weight="normal" >6</text>
<text x="198.14" y="404.60" font-size="6.4" text-anchor="middle" fill="#262626" font-weight="normal" >4</text>
<text x="215.00" y="404.60" font-size="6.4" text-anchor="middle" fill="#262626" font-weight="normal" >4</text>
<line x1="19.20" y1="412.70" x2="35.00" y2="412.70" stroke="#e8a450" stroke-width="1.4" />
<text x="46.40" y="414.80" font-size="6.4" text-anchor="middle" fill="#262626" font-weight="normal" >48</text>
<text x="63.26" y="414.80" font-size="6.4" text-anchor="middle" fill="#262626" font-weight="normal" >48</text>
<text x="80.12" y="414.80" font-size="6.4" text-anchor="middle" fill="#262626" font-weight="normal" >47</text>
<text x="96.98" y="414.80" font-size="6.4" text-anchor="middle" fill="#262626" font-weight="normal" >42</text>
<text x="113.84" y="414.80" font-size="6.4" text-anchor="middle" fill="#262626" font-weight="normal" >32</text>
<text x="130.70" y="414.80" font-size="6.4" text-anchor="middle" fill="#262626" font-weight="normal" >27</text>
<text x="147.56" y="414.80" font-size="6.4" text-anchor="middle" fill="#262626" font-weight="normal" >23</text>
<text x="164.42" y="414.80" font-size="6.4" text-anchor="middle" fill="#262626" font-weight="normal" >20</text>
<text x="181.28" y="414.80" font-size="6.4" text-anchor="middle" fill="#262626" font-weight="normal" >17</text>
<text x="198.14" y="414.80" font-size="6.4" text-anchor="middle" fill="#262626" font-weight="normal" >12</text>
<text x="215.00" y="414.80" font-size="6.4" text-anchor="middle" fill="#262626" font-weight="normal" >9</text>
<line x1="19.20" y1="422.50" x2="35.00" y2="422.50" stroke="#48a4b8" stroke-width="1.4" />
<text x="46.40" y="424.60" font-size="6.4" text-anchor="middle" fill="#262626" font-weight="normal" >15</text>
<text x="63.26" y="424.60" font-size="6.4" text-anchor="middle" fill="#262626" font-weight="normal" >15</text>
<text x="80.12" y="424.60" font-size="6.4" text-anchor="middle" fill="#262626" font-weight="normal" >14</text>
<text x="96.98" y="424.60" font-size="6.4" text-anchor="middle" fill="#262626" font-weight="normal" >11</text>
<text x="113.84" y="424.60" font-size="6.4" text-anchor="middle" fill="#262626" font-weight="normal" >9</text>
<text x="130.70" y="424.60" font-size="6.4" text-anchor="middle" fill="#262626" font-weight="normal" >9</text>
<text x="147.56" y="424.60" font-size="6.4" text-anchor="middle" fill="#262626" font-weight="normal" >5</text>
<text x="164.42" y="424.60" font-size="6.4" text-anchor="middle" fill="#262626" font-weight="normal" >4</text>
<text x="181.28" y="424.60" font-size="6.4" text-anchor="middle" fill="#262626" font-weight="normal" >1</text>
<text x="198.14" y="424.60" font-size="6.4" text-anchor="middle" fill="#262626" font-weight="normal" >1</text>
<text x="215.00" y="424.60" font-size="6.4" text-anchor="middle" fill="#262626" font-weight="normal" >0</text>
<rect x="240.8" y="30.50" width="272.4" height="16.4" fill="#d7d7dd"/>
<rect x="240.8" y="64.20" width="272.4" height="16.4" fill="#d7d7dd"/>
<rect x="240.8" y="97.90" width="272.4" height="16.4" fill="#d7d7dd"/>
<rect x="240.8" y="131.60" width="272.4" height="16.4" fill="#d7d7dd"/>
<rect x="240.8" y="165.30" width="272.4" height="16.4" fill="#d7d7dd"/>
<rect x="240.8" y="199.00" width="272.4" height="16.4" fill="#d7d7dd"/>
<rect x="240.8" y="232.70" width="272.4" height="16.4" fill="#d7d7dd"/>
<line x1="387.72" y1="19.80" x2="387.72" y2="263.60" stroke="#c8c8cc" stroke-width="0.7" />
<line x1="387.72" y1="260.80" x2="387.72" y2="263.60" stroke="#666" stroke-width="0.8" />
<line x1="419.48" y1="19.80" x2="419.48" y2="263.60" stroke="#c8c8cc" stroke-width="0.7" />
<line x1="419.48" y1="260.80" x2="419.48" y2="263.60" stroke="#666" stroke-width="0.8" />
<line x1="440.47" y1="19.80" x2="440.47" y2="263.60" stroke="#c8c8cc" stroke-width="0.7" />
<line x1="440.47" y1="260.80" x2="440.47" y2="263.60" stroke="#666" stroke-width="0.8" />
<line x1="456.35" y1="19.80" x2="456.35" y2="263.60" stroke="#c8c8cc" stroke-width="0.7" />
<line x1="456.35" y1="260.80" x2="456.35" y2="263.60" stroke="#666" stroke-width="0.8" />
<line x1="472.23" y1="19.80" x2="472.23" y2="263.60" stroke="#c8c8cc" stroke-width="0.7" />
<line x1="472.23" y1="260.80" x2="472.23" y2="263.60" stroke="#666" stroke-width="0.8" />
<line x1="493.22" y1="19.80" x2="493.22" y2="263.60" stroke="#c8c8cc" stroke-width="0.7" />
<line x1="493.22" y1="260.80" x2="493.22" y2="263.60" stroke="#666" stroke-width="0.8" />
<line x1="403.60" y1="21.50" x2="403.60" y2="263.60" stroke="#222" stroke-width="0.9" stroke-dasharray="0.9,3.7"/>
<text x="396.20" y="17.60" font-size="8.0" text-anchor="middle" fill="#222" font-weight="normal" >Hazard ratio</text>
<text x="387.72" y="272.50" font-size="6.4" text-anchor="middle" fill="#262626" font-weight="normal" >0.5</text>
<text x="403.60" y="272.50" font-size="6.4" text-anchor="middle" fill="#262626" font-weight="normal" >1</text>
<text x="419.48" y="272.50" font-size="6.4" text-anchor="middle" fill="#262626" font-weight="normal" >2</text>
<text x="440.47" y="272.50" font-size="6.4" text-anchor="middle" fill="#262626" font-weight="normal" >5</text>
<text x="456.35" y="272.50" font-size="6.4" text-anchor="middle" fill="#262626" font-weight="normal" >10</text>
<text x="472.23" y="272.50" font-size="6.4" text-anchor="middle" fill="#262626" font-weight="normal" >20</text>
<text x="493.22" y="272.50" font-size="6.4" text-anchor="middle" fill="#262626" font-weight="normal" >50</text>
<text x="244.00" y="37.00" font-size="6.1" text-anchor="start" fill="#262626" font-weight="normal" xml:space="preserve" word-spacing="0.2">Number of</text>
<text x="244.00" y="44.20" font-size="6.1" text-anchor="start" fill="#262626" font-weight="normal" xml:space="preserve" word-spacing="0.2">Additional mutation</text>
<text x="314.00" y="37.00" font-size="6.1" text-anchor="middle" fill="#262626" font-weight="normal" xml:space="preserve" word-spacing="1.0">None</text>
<text x="314.00" y="44.20" font-size="6.1" text-anchor="middle" fill="#262626" font-weight="normal" xml:space="preserve" word-spacing="1.0">(N = 59)</text>
<text x="355.30" y="41.00" font-size="6.1" text-anchor="middle" fill="#262626" font-weight="normal" xml:space="preserve" word-spacing="1.2">reference</text>
<rect x="401.50" y="36.70" width="4.2" height="4.2" fill="#111"/>
<text x="314.00" y="53.85" font-size="6.1" text-anchor="middle" fill="#262626" font-weight="normal" xml:space="preserve" word-spacing="1.0">1</text>
<text x="314.00" y="61.05" font-size="6.1" text-anchor="middle" fill="#262626" font-weight="normal" xml:space="preserve" word-spacing="1.0">(N = 38)</text>
<text x="355.30" y="53.85" font-size="6.1" text-anchor="middle" fill="#262626" font-weight="normal" xml:space="preserve" word-spacing="1.2">4.56</text>
<text x="355.30" y="61.05" font-size="6.1" text-anchor="middle" fill="#262626" font-weight="normal" xml:space="preserve" word-spacing="1.2">[1.07 − 19.4]</text>
<line x1="405.15" y1="55.65" x2="471.53" y2="55.65" stroke="#4aa8d8" stroke-width="0.9" />
<line x1="405.15" y1="54.45" x2="405.15" y2="56.85" stroke="#4aa8d8" stroke-width="0.7" />
<line x1="471.53" y1="54.45" x2="471.53" y2="56.85" stroke="#4aa8d8" stroke-width="0.7" />
<rect x="436.26" y="53.55" width="4.2" height="4.2" fill="#3fa0d6"/>
<text x="491.30" y="57.95" font-size="6.3" text-anchor="start" fill="#262626" font-weight="normal" >0.04*</text>
<text x="314.00" y="70.70" font-size="6.1" text-anchor="middle" fill="#262626" font-weight="normal" xml:space="preserve" word-spacing="1.0">≥2</text>
<text x="314.00" y="77.90" font-size="6.1" text-anchor="middle" fill="#262626" font-weight="normal" xml:space="preserve" word-spacing="1.0">(N = 24)</text>
<text x="355.30" y="70.70" font-size="6.1" text-anchor="middle" fill="#262626" font-weight="normal" xml:space="preserve" word-spacing="1.2">9.63</text>
<text x="355.30" y="77.90" font-size="6.1" text-anchor="middle" fill="#262626" font-weight="normal" xml:space="preserve" word-spacing="1.2">[2.20 − 42.1]</text>
<line x1="421.66" y1="72.50" x2="489.28" y2="72.50" stroke="#4aa8d8" stroke-width="0.9" />
<line x1="421.66" y1="71.30" x2="421.66" y2="73.70" stroke="#4aa8d8" stroke-width="0.7" />
<line x1="489.28" y1="71.30" x2="489.28" y2="73.70" stroke="#4aa8d8" stroke-width="0.7" />
<rect x="453.39" y="70.40" width="4.2" height="4.2" fill="#3fa0d6"/>
<text x="491.30" y="74.80" font-size="6.3" text-anchor="start" fill="#262626" font-weight="normal" >0.003**</text>
<text x="244.00" y="91.55" font-size="6.1" text-anchor="start" fill="#262626" font-weight="normal" xml:space="preserve" word-spacing="0.2">CR at 12 months</text>
<text x="314.00" y="87.55" font-size="6.1" text-anchor="middle" fill="#262626" font-weight="normal" xml:space="preserve" word-spacing="1.0">Yes</text>
<text x="314.00" y="94.75" font-size="6.1" text-anchor="middle" fill="#262626" font-weight="normal" xml:space="preserve" word-spacing="1.0">(N = 75)</text>
<text x="355.30" y="91.55" font-size="6.1" text-anchor="middle" fill="#262626" font-weight="normal" xml:space="preserve" word-spacing="1.2">reference</text>
<rect x="401.50" y="87.25" width="4.2" height="4.2" fill="#111"/>
<text x="314.00" y="104.40" font-size="6.1" text-anchor="middle" fill="#262626" font-weight="normal" xml:space="preserve" word-spacing="1.0">No</text>
<text x="314.00" y="111.60" font-size="6.1" text-anchor="middle" fill="#262626" font-weight="normal" xml:space="preserve" word-spacing="1.0">(N = 46)</text>
<text x="355.30" y="104.40" font-size="6.1" text-anchor="middle" fill="#262626" font-weight="normal" xml:space="preserve" word-spacing="1.2">2.39</text>
<text x="355.30" y="111.60" font-size="6.1" text-anchor="middle" fill="#262626" font-weight="normal" xml:space="preserve" word-spacing="1.2">[0.88 −  6.5]</text>
<line x1="400.67" y1="106.20" x2="446.48" y2="106.20" stroke="#222" stroke-width="0.9" />
<line x1="400.67" y1="105.00" x2="400.67" y2="107.40" stroke="#222" stroke-width="0.7" />
<line x1="446.48" y1="105.00" x2="446.48" y2="107.40" stroke="#222" stroke-width="0.7" />
<rect x="421.46" y="104.10" width="4.2" height="4.2" fill="#111"/>
<text x="491.30" y="108.50" font-size="6.3" text-anchor="start" fill="#262626" font-weight="normal" >0.087</text>
<text x="244.00" y="121.25" font-size="6.1" text-anchor="start" fill="#262626" font-weight="normal" xml:space="preserve" word-spacing="0.2">Leukocytosis</text>
<text x="244.00" y="128.45" font-size="6.1" text-anchor="start" fill="#262626" font-weight="normal" xml:space="preserve" word-spacing="0.2">≥11 G/L</text>
<text x="314.00" y="121.25" font-size="6.1" text-anchor="middle" fill="#262626" font-weight="normal" xml:space="preserve" word-spacing="1.0">No</text>
<text x="314.00" y="128.45" font-size="6.1" text-anchor="middle" fill="#262626" font-weight="normal" xml:space="preserve" word-spacing="1.0">(N = 101)</text>
<text x="355.30" y="125.25" font-size="6.1" text-anchor="middle" fill="#262626" font-weight="normal" xml:space="preserve" word-spacing="1.2">reference</text>
<rect x="401.50" y="120.95" width="4.2" height="4.2" fill="#111"/>
<text x="314.00" y="138.10" font-size="6.1" text-anchor="middle" fill="#262626" font-weight="normal" xml:space="preserve" word-spacing="1.0">Yes</text>
<text x="314.00" y="145.30" font-size="6.1" text-anchor="middle" fill="#262626" font-weight="normal" xml:space="preserve" word-spacing="1.0">(N = 19)</text>
<text x="355.30" y="138.10" font-size="6.1" text-anchor="middle" fill="#262626" font-weight="normal" xml:space="preserve" word-spacing="1.2">0.95</text>
<text x="355.30" y="145.30" font-size="6.1" text-anchor="middle" fill="#262626" font-weight="normal" xml:space="preserve" word-spacing="1.2">[0.27 −  3.3]</text>
<line x1="373.60" y1="139.90" x2="430.95" y2="139.90" stroke="#222" stroke-width="0.9" />
<line x1="373.60" y1="138.70" x2="373.60" y2="141.10" stroke="#222" stroke-width="0.7" />
<line x1="430.95" y1="138.70" x2="430.95" y2="141.10" stroke="#222" stroke-width="0.7" />
<rect x="400.32" y="137.80" width="4.2" height="4.2" fill="#111"/>
<text x="491.30" y="142.20" font-size="6.3" text-anchor="start" fill="#262626" font-weight="normal" >0.938</text>
<text x="244.00" y="158.95" font-size="6.1" text-anchor="start" fill="#262626" font-weight="normal" xml:space="preserve" word-spacing="0.2">Gender</text>
<text x="314.00" y="154.95" font-size="6.1" text-anchor="middle" fill="#262626" font-weight="normal" xml:space="preserve" word-spacing="1.0">Female</text>
<text x="314.00" y="162.15" font-size="6.1" text-anchor="middle" fill="#262626" font-weight="normal" xml:space="preserve" word-spacing="1.0">(N = 72)</text>
<text x="355.30" y="158.95" font-size="6.1" text-anchor="middle" fill="#262626" font-weight="normal" xml:space="preserve" word-spacing="1.2">reference</text>
<rect x="401.50" y="154.65" width="4.2" height="4.2" fill="#111"/>
<text x="314.00" y="171.80" font-size="6.1" text-anchor="middle" fill="#262626" font-weight="normal" xml:space="preserve" word-spacing="1.0">Male</text>
<text x="314.00" y="179.00" font-size="6.1" text-anchor="middle" fill="#262626" font-weight="normal" xml:space="preserve" word-spacing="1.0">(N = 49)</text>
<text x="355.30" y="171.80" font-size="6.1" text-anchor="middle" fill="#262626" font-weight="normal" xml:space="preserve" word-spacing="1.2">1.40</text>
<text x="355.30" y="179.00" font-size="6.1" text-anchor="middle" fill="#262626" font-weight="normal" xml:space="preserve" word-spacing="1.2">[0.49 −  4.0]</text>
<line x1="387.26" y1="173.60" x2="435.36" y2="173.60" stroke="#222" stroke-width="0.9" />
<line x1="387.26" y1="172.40" x2="387.26" y2="174.80" stroke="#222" stroke-width="0.7" />
<line x1="435.36" y1="172.40" x2="435.36" y2="174.80" stroke="#222" stroke-width="0.7" />
<rect x="409.21" y="171.50" width="4.2" height="4.2" fill="#111"/>
<text x="491.30" y="175.90" font-size="6.3" text-anchor="start" fill="#262626" font-weight="normal" >0.528</text>
<text x="244.00" y="192.65" font-size="6.1" text-anchor="start" fill="#262626" font-weight="normal" xml:space="preserve" word-spacing="0.2">Age</text>
<text x="314.00" y="188.65" font-size="6.1" text-anchor="middle" fill="#262626" font-weight="normal" xml:space="preserve" word-spacing="1.0">≤60</text>
<text x="314.00" y="195.85" font-size="6.1" text-anchor="middle" fill="#262626" font-weight="normal" xml:space="preserve" word-spacing="1.0">(N = 44)</text>
<text x="355.30" y="192.65" font-size="6.1" text-anchor="middle" fill="#262626" font-weight="normal" xml:space="preserve" word-spacing="1.2">reference</text>
<rect x="401.50" y="188.35" width="4.2" height="4.2" fill="#111"/>
<text x="314.00" y="205.50" font-size="6.1" text-anchor="middle" fill="#262626" font-weight="normal" xml:space="preserve" word-spacing="1.0">&gt;60</text>
<text x="314.00" y="212.70" font-size="6.1" text-anchor="middle" fill="#262626" font-weight="normal" xml:space="preserve" word-spacing="1.0">(N = 77)</text>
<text x="355.30" y="205.50" font-size="6.1" text-anchor="middle" fill="#262626" font-weight="normal" xml:space="preserve" word-spacing="1.2">1.57</text>
<text x="355.30" y="212.70" font-size="6.1" text-anchor="middle" fill="#262626" font-weight="normal" xml:space="preserve" word-spacing="1.2">[0.46 −  5.4]</text>
<line x1="385.81" y1="207.30" x2="442.23" y2="207.30" stroke="#222" stroke-width="0.9" />
<line x1="385.81" y1="206.10" x2="385.81" y2="208.50" stroke="#222" stroke-width="0.7" />
<line x1="442.23" y1="206.10" x2="442.23" y2="208.50" stroke="#222" stroke-width="0.7" />
<rect x="411.83" y="205.20" width="4.2" height="4.2" fill="#111"/>
<text x="491.30" y="209.60" font-size="6.3" text-anchor="start" fill="#262626" font-weight="normal" >0.471</text>
<text x="244.00" y="222.35" font-size="6.1" text-anchor="start" fill="#262626" font-weight="normal" xml:space="preserve" word-spacing="0.2">Previous</text>
<text x="244.00" y="229.55" font-size="6.1" text-anchor="start" fill="#262626" font-weight="normal" xml:space="preserve" word-spacing="0.2">thrombosis</text>
<text x="314.00" y="222.35" font-size="6.1" text-anchor="middle" fill="#262626" font-weight="normal" xml:space="preserve" word-spacing="1.0">No</text>
<text x="314.00" y="229.55" font-size="6.1" text-anchor="middle" fill="#262626" font-weight="normal" xml:space="preserve" word-spacing="1.0">(N = 82)</text>
<text x="355.30" y="226.35" font-size="6.1" text-anchor="middle" fill="#262626" font-weight="normal" xml:space="preserve" word-spacing="1.2">reference</text>
<rect x="401.50" y="222.05" width="4.2" height="4.2" fill="#111"/>
<text x="314.00" y="239.20" font-size="6.1" text-anchor="middle" fill="#262626" font-weight="normal" xml:space="preserve" word-spacing="1.0">Yes</text>
<text x="314.00" y="246.40" font-size="6.1" text-anchor="middle" fill="#262626" font-weight="normal" xml:space="preserve" word-spacing="1.0">(N = 39)</text>
<text x="355.30" y="239.20" font-size="6.1" text-anchor="middle" fill="#262626" font-weight="normal" xml:space="preserve" word-spacing="1.2">2.09</text>
<text x="355.30" y="246.40" font-size="6.1" text-anchor="middle" fill="#262626" font-weight="normal" xml:space="preserve" word-spacing="1.2">[0.71 −  6.1]</text>
<line x1="395.75" y1="241.00" x2="445.03" y2="241.00" stroke="#222" stroke-width="0.9" />
<line x1="395.75" y1="239.80" x2="395.75" y2="242.20" stroke="#222" stroke-width="0.7" />
<line x1="445.03" y1="239.80" x2="445.03" y2="242.20" stroke="#222" stroke-width="0.7" />
<rect x="418.39" y="238.90" width="4.2" height="4.2" fill="#111"/>
<text x="491.30" y="243.30" font-size="6.3" text-anchor="start" fill="#262626" font-weight="normal" >0.179</text>
<text x="244.00" y="257.60" font-size="6.3" text-anchor="start" fill="#262626" font-weight="normal" ># Events: 18</text>
<text x="244.00" y="266.00" font-size="6.3" text-anchor="start" fill="#262626" font-weight="normal" >AIC: 132.7; Concordance Index: 0.83</text>
<rect x="0.5" y="0.5" width="519" height="448" fill="none" stroke="#5e5e5e" stroke-width="1"/>
</svg>
</body></html>
